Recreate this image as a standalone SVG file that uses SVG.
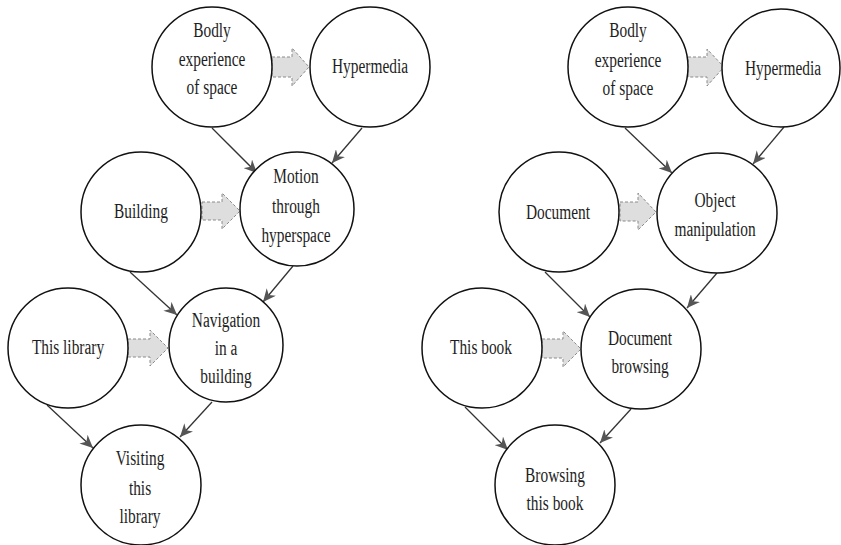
<svg xmlns="http://www.w3.org/2000/svg" width="841" height="545" viewBox="0 0 841 545">
<style>
.c{fill:#fff;stroke:#111;stroke-width:1.5}
.t{font-family:"Liberation Serif","Times New Roman",serif;font-size:20px;fill:#1e1e1e;text-anchor:middle}
.fat{fill:#dedede;stroke:#8a8a8a;stroke-width:1;stroke-dasharray:3 2}
.e{stroke:#333;stroke-width:1.3;fill:none;marker-end:url(#ah)}
</style>
<defs>
<marker id="ah" markerUnits="userSpaceOnUse" markerWidth="14" markerHeight="12" refX="13" refY="6" orient="auto">
<path d="M0,0 L13,6 L0,12 L4,6 z" fill="#555"/>
</marker>
</defs>
<rect width="841" height="545" fill="#fff"/>

<g id="connectors">
<line class="e" x1="212" y1="128" x2="257" y2="173"/>
<line class="e" x1="362" y1="128" x2="332" y2="163"/>
<line class="e" x1="130" y1="272" x2="177" y2="315"/>
<line class="e" x1="293" y1="266" x2="263" y2="302"/>
<line class="e" x1="47" y1="405" x2="93" y2="448"/>
<line class="e" x1="212" y1="402" x2="180" y2="437"/>
<line class="e" x1="625" y1="128" x2="672" y2="173"/>
<line class="e" x1="784" y1="127" x2="753" y2="164"/>
<line class="e" x1="545" y1="272" x2="590" y2="317"/>
<line class="e" x1="717" y1="273" x2="687" y2="308"/>
<line class="e" x1="465" y1="407" x2="508" y2="450"/>
<line class="e" x1="631" y1="409" x2="600" y2="443"/>
<polygon class="fat" points="272,57 292,57 292,48 309,67 292,86 292,77 272,77"/>
<polygon class="fat" points="202,202 222,202 222,193 240,211 222,229 222,220 202,220"/>
<polygon class="fat" points="128,339 150,339 150,330 168,348 150,366 150,357 128,357"/>
<polygon class="fat" points="688,57 707,57 707,49 724,67 707,86 707,77 688,77"/>
<polygon class="fat" points="620,202 638,202 638,193 656,212 638,230 638,221 620,221"/>
<polygon class="fat" points="542,339 563,339 563,331 581,349 563,367 563,358 542,358"/>
</g>

<g id="n-bodly-l"><circle class="c" cx="212" cy="67" r="60"/>
<text class="t" transform="translate(212,0) scale(0.77,1)"><tspan x="0" y="37">Bodly</tspan><tspan x="0" y="66">experience</tspan><tspan x="0" y="94">of space</tspan></text></g>
<g id="n-hyper-l"><circle class="c" cx="370" cy="67" r="60"/>
<text class="t" transform="translate(370,0) scale(0.77,1)"><tspan x="0" y="73">Hypermedia</tspan></text></g>
<g id="n-building"><circle class="c" cx="141" cy="212" r="60"/>
<text class="t" transform="translate(141,0) scale(0.77,1)"><tspan x="0" y="218">Building</tspan></text></g>
<g id="n-motion"><circle class="c" cx="297" cy="209" r="57"/>
<text class="t" transform="translate(296,0) scale(0.77,1)"><tspan x="0" y="183">Motion</tspan><tspan x="0" y="213">through</tspan><tspan x="0" y="242">hyperspace</tspan></text></g>
<g id="n-library"><circle class="c" cx="68" cy="348" r="60"/>
<text class="t" transform="translate(68,0) scale(0.77,1)"><tspan x="0" y="354">This library</tspan></text></g>
<g id="n-navigation"><circle class="c" cx="226" cy="345" r="57"/>
<text class="t" transform="translate(226,0) scale(0.77,1)"><tspan x="0" y="327">Navigation</tspan><tspan x="0" y="355">in a</tspan><tspan x="0" y="383">building</tspan></text></g>
<g id="n-visiting"><circle class="c" cx="141" cy="485" r="60"/>
<text class="t" transform="translate(140,0) scale(0.77,1)"><tspan x="0" y="465">Visiting</tspan><tspan x="0" y="495">this</tspan><tspan x="0" y="523">library</tspan></text></g>

<g id="n-bodly-r"><circle class="c" cx="628" cy="67" r="60"/>
<text class="t" transform="translate(628,0) scale(0.77,1)"><tspan x="0" y="37">Bodly</tspan><tspan x="0" y="67">experience</tspan><tspan x="0" y="95">of space</tspan></text></g>
<g id="n-hyper-r"><circle class="c" cx="781" cy="68" r="59"/>
<text class="t" transform="translate(783,0) scale(0.77,1)"><tspan x="0" y="75">Hypermedia</tspan></text></g>
<g id="n-document"><circle class="c" cx="559" cy="212" r="60"/>
<text class="t" transform="translate(558,0) scale(0.77,1)"><tspan x="0" y="219">Document</tspan></text></g>
<g id="n-object"><circle class="c" cx="717" cy="213" r="60"/>
<text class="t" transform="translate(715,0) scale(0.77,1)"><tspan x="0" y="207">Object</tspan><tspan x="0" y="236">manipulation</tspan></text></g>
<g id="n-book"><circle class="c" cx="482" cy="348" r="60"/>
<text class="t" transform="translate(481,0) scale(0.77,1)"><tspan x="0" y="354">This book</tspan></text></g>
<g id="n-docbrowse"><circle class="c" cx="641" cy="349" r="60"/>
<text class="t" transform="translate(640,0) scale(0.77,1)"><tspan x="0" y="345">Document</tspan><tspan x="0" y="373">browsing</tspan></text></g>
<g id="n-browsing"><circle class="c" cx="555" cy="485" r="60"/>
<text class="t" transform="translate(555,0) scale(0.77,1)"><tspan x="0" y="482">Browsing</tspan><tspan x="0" y="510">this book</tspan></text></g>
</svg>
